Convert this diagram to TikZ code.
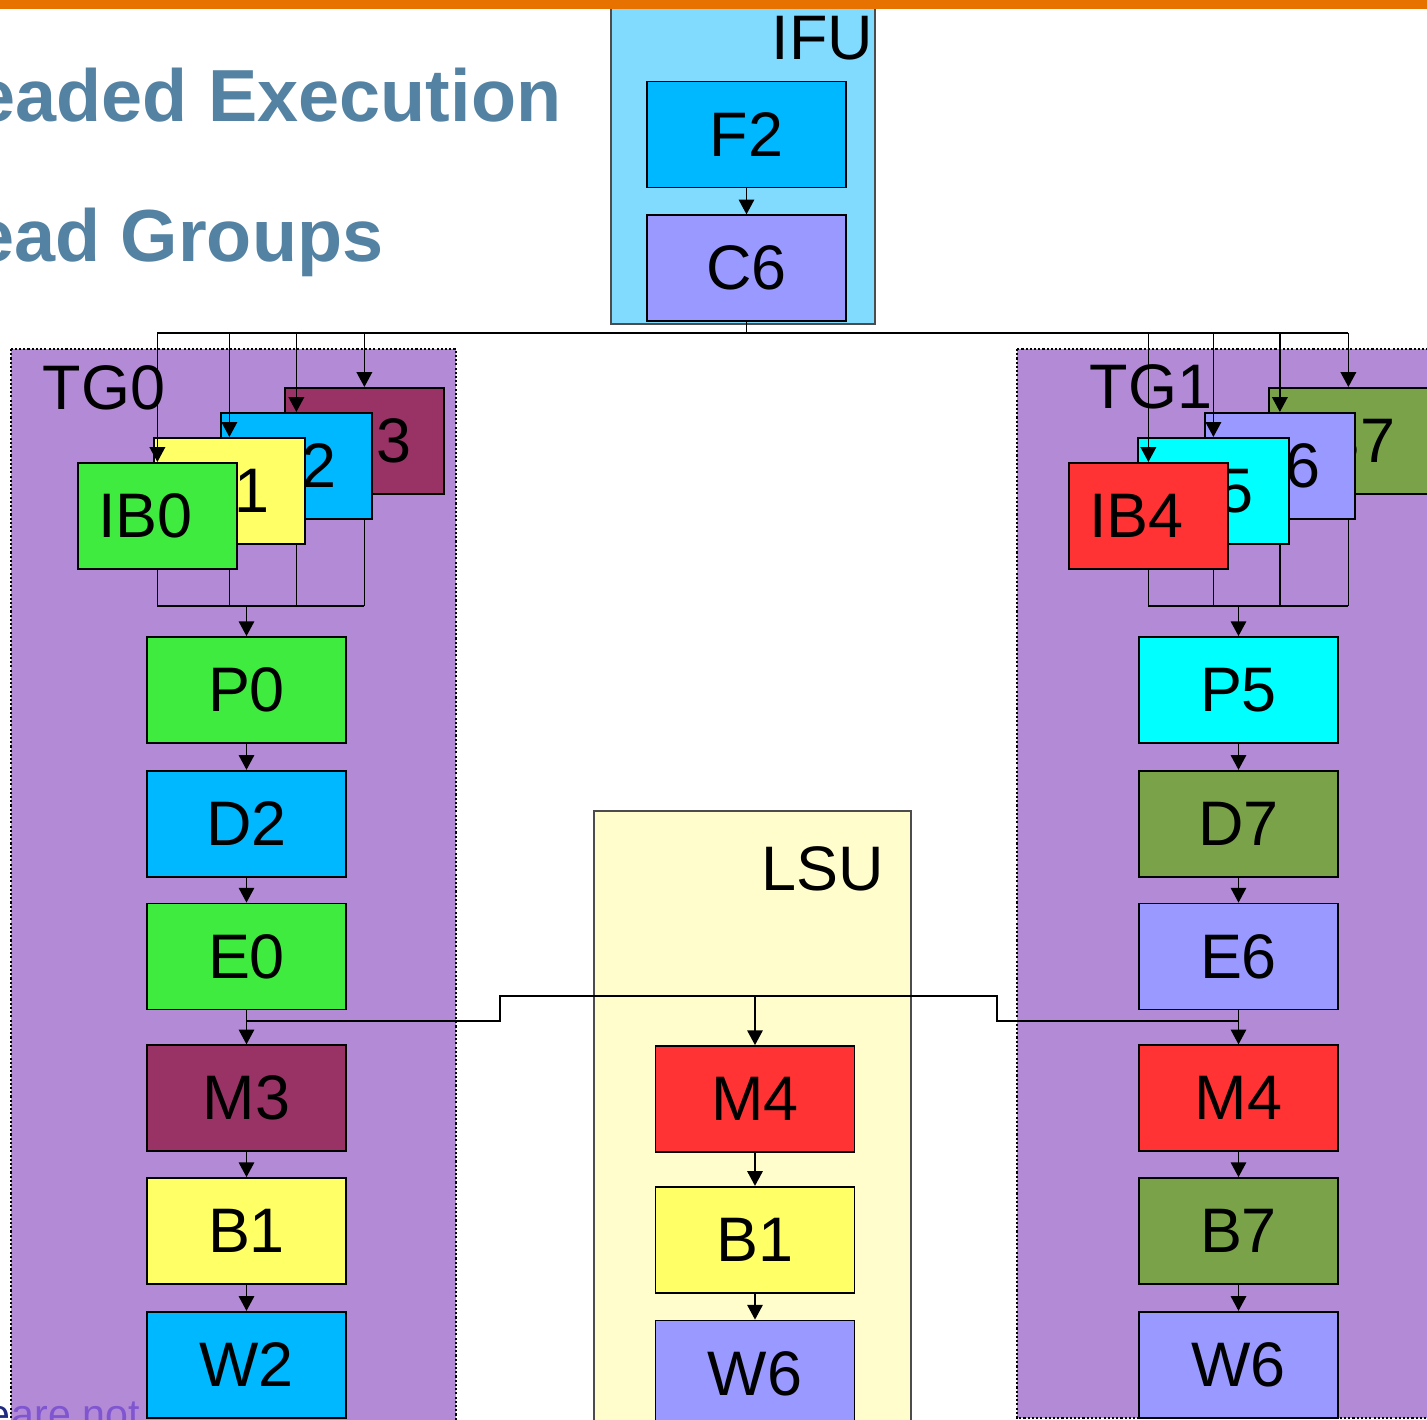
\documentclass[tikz,border=0pt]{standalone}
\usepackage{fontspec}
\setmainfont{Liberation Sans}
\usetikzlibrary{arrows.meta,positioning}

\definecolor{barorange}{HTML}{E87200}
\definecolor{titleblue}{HTML}{5482A2}
\definecolor{tgpurple}{HTML}{B28AD6}
\definecolor{ifublue}{HTML}{80DBFF}
\definecolor{lsuyellow}{HTML}{FFFDCC}
\definecolor{cgreen}{HTML}{3EEB3E}
\definecolor{cyellow}{HTML}{FFFF66}
\definecolor{cblue}{HTML}{00B8FF}
\definecolor{cmaroon}{HTML}{993366}
\definecolor{cperi}{HTML}{9999FF}
\definecolor{cred}{HTML}{FF3333}
\definecolor{ccyan}{HTML}{00FFFF}
\definecolor{colive}{HTML}{7AA349}
\definecolor{notepurple}{HTML}{7F55D0}
\definecolor{notenavy}{HTML}{1F2A80}

\begin{document}
\begin{tikzpicture}[
  x=0.1mm, y=-0.1mm,
  stage/.style={draw, line width=0.5pt, minimum width=19.9mm, minimum height=10.6mm, inner sep=0pt, font=\fontsize{17.9}{20}\selectfont},
  ib/.style={stage, minimum width=15.9mm, anchor=north west},
  unit/.style={draw=black!70, line width=0.4pt},
  group/.style={fill=tgpurple, draw=black, line width=0.6pt, dash pattern=on 0.6pt off 0.6pt},
  tag/.style={inner sep=0pt, font=\fontsize{17.9}{20}\selectfont},
  head/.style={inner sep=0pt, anchor=base east, text=titleblue, font=\fontsize{21}{24}\selectfont\bfseries},
  arr/.style={-{Triangle[length=4.2pt, width=4.4pt]}, line width=0.45pt},
  wire/.style={line width=0.45pt},
  node distance=2.6mm
]
\useasboundingbox (0,0) rectangle (1427,1420);

% slide title, cut at the page edge
\node[head] (title1) at (562,122) {eaded Execution};
\node[head] (title2) at (384,262) {ead Groups};

% units
\draw[unit, fill=ifublue] (611,7) rectangle (875,324);
\fill[barorange] (0,0) rectangle (1427,9);
\draw[unit, fill=lsuyellow] (594,811) rectangle (911,1440);
\draw[group] (11,349) rectangle (456,1440);
\draw[group] (1017,349) rectangle (1440,1418);

\node[anchor=base east, inner sep=0pt, text=notenavy, font=\fontsize{11.7}{14}\selectfont] (notepre) at (11,1429) {e};
\node[anchor=base west, inner sep=0pt, text=notepurple, font=\fontsize{11.7}{14}\selectfont] (note) at (11,1429) {are not};

\node[tag, anchor=base east] (ifu) at (874,60) {IFU};
\node[tag, anchor=base east] (lsu) at (885,891) {LSU};
\node[tag, anchor=base west] (tg0) at (42,410) {TG0};
\node[tag, anchor=base west] (tg1) at (1089,409) {TG1};

% fetch
\node[stage, fill=cblue] (f2) at (746.5,134.5) {F2};
\node[stage, fill=cperi, below=of f2] (c6) {C6};

% thread group 0
\node[ib, fill=cmaroon] (ib3) at (284,387) {IB3};
\node[ib, fill=cblue, minimum width=15.1mm] (ib2) at (220,412) {IB2\kern1.4mm};
\node[ib, fill=cyellow, minimum width=15.1mm] (ib1) at (153,437) {IB1\kern1.4mm};
\node[ib, fill=cgreen] (ib0) at (77,462) {IB0\kern2.4mm};

\node[stage, fill=cgreen] (p0) at (246.5,690) {P0};
\node[stage, fill=cblue, below=of p0] (d2) {D2};
\node[stage, fill=cgreen, below=2.5mm of d2] (e0) {E0};
\node[stage, fill=cmaroon, below=3.4mm of e0] (m3) {M3};
\node[stage, fill=cyellow, below=2.5mm of m3] (b1) {B1};
\node[stage, fill=cblue, below=of b1] (w2) {W2};

% thread group 1
\node[ib, fill=colive] (ib7) at (1268,387) {IB7};
\node[ib, fill=cperi, minimum width=15.0mm] (ib6) at (1204,412) {IB6\kern1.4mm};
\node[ib, fill=ccyan, minimum width=15.1mm] (ib5) at (1137,437) {IB5\kern1.4mm};
\node[ib, fill=cred] (ib4) at (1068,462) {IB4\kern2.4mm};

\node[stage, fill=ccyan] (p5) at (1238.5,690) {P5};
\node[stage, fill=colive, below=of p5] (d7) {D7};
\node[stage, fill=cperi, below=2.5mm of d7] (e6) {E6};
\node[stage, fill=cred, below=3.4mm of e6] (m4) {M4};
\node[stage, fill=colive, below=2.5mm of m4] (b7) {B7};
\node[stage, fill=cperi, below=of b7] (w6) {W6};

% load/store
\node[stage, fill=cred] (lsum4) at (755,1099) {M4};
\node[stage, fill=cyellow, below=3.3mm of lsum4] (lsub1) {B1};
\node[stage, fill=cperi, below=of lsub1] (lsuw6) {W6};

% fetch bus
\coordinate (fetchbus) at (746.5,333);
\draw[arr] (f2) -- (c6);
\draw[wire] (c6.south) -- (fetchbus);
\draw[wire] (ib0.north |- fetchbus) -- (ib7.north |- fetchbus);
\foreach \b in {ib0,ib1,ib2,ib3,ib4,ib5,ib6,ib7}
  \draw[arr] (\b.north |- fetchbus) -- (\b.north);

% buffers into pick
\coordinate (join0) at (246.5,606);
\coordinate (join1) at (1238.5,606);
\draw[wire] (ib0.south) -- (ib0.south |- join0) -- (ib3.south |- join0);
\draw[wire] (ib1.south |- ib0.south) -- (ib1.south |- join0);
\draw[wire] (ib2.south |- ib1.south) -- (ib2.south |- join0);
\draw[wire] (ib3.south |- ib2.south) -- (ib3.south |- join0);
\draw[wire] (ib4.south) -- (ib4.south |- join1) -- (ib7.south |- join1);
\draw[wire] (ib5.south |- ib4.south) -- (ib5.south |- join1);
\draw[wire] (ib6.south |- ib5.south) -- (ib6.south |- join1);
\draw[wire] (ib7.south |- ib6.south) -- (ib7.south |- join1);
\draw[arr] (join0) -- (p0);
\draw[arr] (join1) -- (p5);

% pipelines
\foreach \a/\b in {p0/d2, d2/e0, e0/m3, m3/b1, b1/w2, p5/d7, d7/e6, e6/m4, m4/b7, b7/w6, lsum4/lsub1, lsub1/lsuw6}
  \draw[arr] (\a) -- (\b);

% execute to LSU
\coordinate (stepl) at (500,1021);
\coordinate (stepr) at (997,1021);
\coordinate (lsubus) at (755,996);
\draw[wire] (e0.south |- stepl) -- (stepl) -- (stepl |- lsubus) -- (stepr |- lsubus) -- (stepr) -- (e6.south |- stepr);
\draw[arr] (lsubus) -- (lsum4);
\end{tikzpicture}
\end{document}
